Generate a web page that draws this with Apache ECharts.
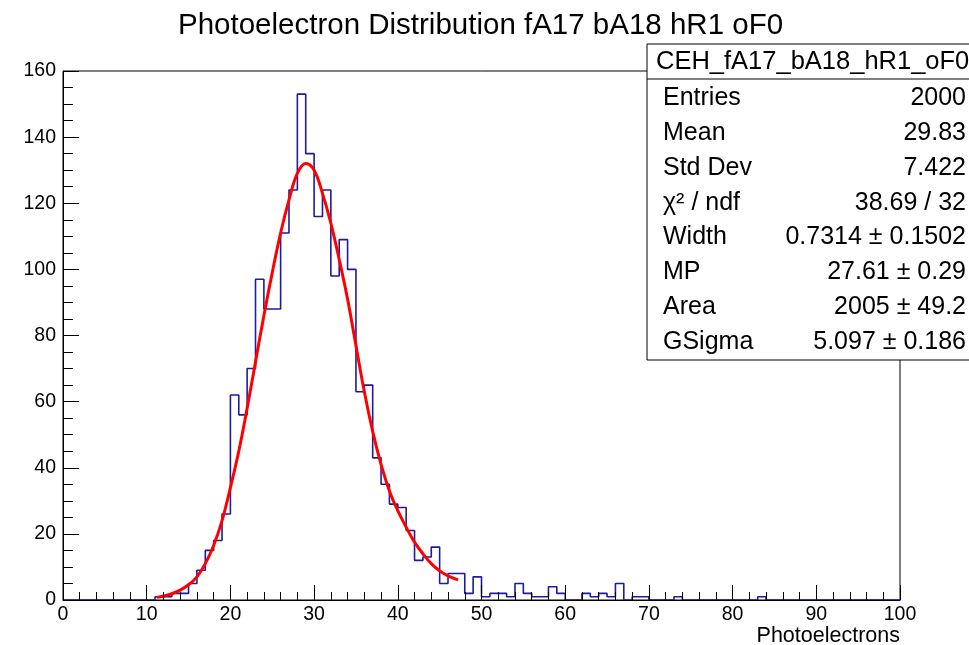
<!DOCTYPE html>
<html>
<head>
<meta charset="utf-8">
<script src="https://cdn.jsdelivr.net/npm/echarts@6/dist/echarts.min.js"></script>
<style>
html,body{margin:0;padding:0;background:#fff;}
#c{width:969px;height:645px;}
</style>
</head>
<body>
<div id="c"></div>
<script>
// Histogram: counts per unit bin, bin i covers [i, i+1)
const binCounts = [
  0,0,0,0,0,0,0,0,0,0,
  0,1,1,2,2,5,9,15,18,26,
  62,56,70,97,88,88,111,124,153,135,
  116,124,98,109,100,63,65,43,35,29,
  28,21,12,13,16,5,8,8,2,7,
  1,2,2,1,5,2,1,1,4,2,
  0,0,2,1,2,1,5,0,1,1,
  0,0,0,1,0,0,0,0,0,0,
  0,0,0,1,0,0,0,0,0,0,
  0,0,0,0,0,0,0,0,0,0
];
// Fit curve
const fitX = [11.2,12,13,14,15,16,17,18,19,20,21,22,23,24,25,26,27,28,29,30,31,32,33,34,35,36,37,38,39,40,41,42,43,44,45,46,47.2];
const fitY = [0.8,1.2,1.9,3.0,4.6,7.0,11,16.5,24,34,45,58,72,86,99,111,121,129,132,130,123,114,103,91,77,63,51,41,33,27,22,17.5,14,11,8.8,7.3,6.1];

const xTicks = [0,10,20,30,40,50,60,70,80,90,100];
const yTicks = [0,20,40,60,80,100,120,140,160];

const titleText = 'Photoelectron Distribution fA17 bA18 hR1 oF0';
const xTitle = 'Photoelectrons';
const statsHeader = 'CEH_fA17_bA18_hR1_oF0';
const statsLabels = ['Entries','Mean','Std Dev','χ² / ndf','Width','MP','Area','GSigma'];
const statsValues = ['2000','29.83','7.422','38.69 / 32','0.7314 ± 0.1502','27.61 ± 0.29','2005 ± 49.2','5.097 ± 0.186'];

const FONT = '"Liberation Sans", Arial, Helvetica, sans-serif';

const histData = binCounts.map((v, i) => [i, v]);
histData.push([binCounts.length, binCounts[binCounts.length - 1]]);
const fitData = fitX.map((x, i) => [x, fitY[i]]);

const statsEls = [];
statsEls.push({type:'rect', shape:{x:647, y:44, width:330, height:316}, style:{fill:'#fff', stroke:'#000', lineWidth:1}, z:10});
statsEls.push({type:'line', shape:{x1:647, y1:79, x2:969, y2:79}, style:{stroke:'#000', lineWidth:1}, z:11});
statsEls.push({type:'text', x:656, y:62, style:{text:statsHeader, font:'25.5px ' + FONT, fill:'#000', align:'left', verticalAlign:'middle'}, z:11});
statsLabels.forEach((l, i) => {
  const y = 98 + i * 34.9;
  statsEls.push({type:'text', x:663, y:y, style:{text:l, font:'25px ' + FONT, fill:'#000', align:'left', verticalAlign:'middle'}, z:11});
  statsEls.push({type:'text', x:966, y:y, style:{text:statsValues[i], font:'25px ' + FONT, fill:'#000', align:'right', verticalAlign:'middle'}, z:11});
});
statsEls.push({type:'text', x:900, y:636, style:{text:xTitle, font:'21.5px ' + FONT, fill:'#000', align:'right', verticalAlign:'middle'}, z:11});

const chart = echarts.init(document.getElementById('c'), null, {renderer:'canvas'});
chart.setOption({
  animation:false,
  backgroundColor:'#fff',
  title:{
    text:titleText, left:173, top:6,
    textStyle:{fontFamily:FONT, fontSize:29.5, fontWeight:'normal', color:'#000'}
  },
  grid:{left:63, right:69, top:71, bottom:45, show:true, borderColor:'#000', borderWidth:1, backgroundColor:'transparent'},
  xAxis:{
    type:'value', min:0, max:100, interval:10,
    axisLine:{show:true, onZero:false, lineStyle:{color:'#000', width:1}},
    axisTick:{show:true, inside:true, length:15, lineStyle:{color:'#000'}},
    minorTick:{show:true, splitNumber:5, length:8, lineStyle:{color:'#000'}},
    splitLine:{show:false},
    axisLabel:{fontFamily:FONT, fontSize:19.5, color:'#000', margin:5,
      formatter:(v)=> xTicks.includes(v) ? String(v) : ''},
    z:5
  },
  yAxis:{
    type:'value', min:0, max:160, interval:20,
    axisLine:{show:true, lineStyle:{color:'#000', width:1}},
    axisTick:{show:true, inside:true, length:16, lineStyle:{color:'#000'}},
    minorTick:{show:true, splitNumber:4, length:10, lineStyle:{color:'#000'}},
    splitLine:{show:false},
    axisLabel:{fontFamily:FONT, fontSize:19.5, color:'#000', margin:7,
      formatter:(v)=> yTicks.includes(v) ? String(v) : ''},
    z:5
  },
  series:[
    {
      type:'line', name:'hist', data:histData, step:'end',
      symbol:'none', lineStyle:{color:'#1c1c9e', width:1.6}, z:2
    },
    {
      type:'line', name:'fit', data:fitData, smooth:0.4,
      symbol:'none', lineStyle:{color:'#ff0000', width:3}, z:3
    }
  ],
  graphic:{elements:statsEls}
});
</script>
</body>
</html>
